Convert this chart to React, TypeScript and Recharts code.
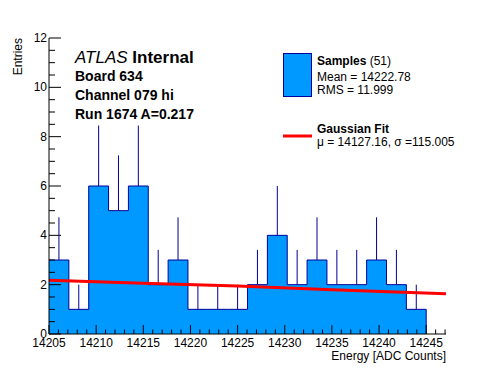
import { Area, ComposedChart, ErrorBar, Line, Scatter, XAxis, YAxis } from "recharts";

const X_MIN = 14205;
const X_MAX = 14247.1;
const BIN_LO = 14205;
const BIN_HI = 14245;

// entries per bin (19 bins between 14205 and 14245)
const counts = [3, 1, 6, 5, 6, 2, 3, 1, 1, 1, 2, 4, 2, 3, 2, 2, 3, 2, 1];
// upper error bar length per bin
const errUp = [1.73, 1.0, 2.45, 2.24, 2.45, 1.41, 1.73, 1.0, 1.0, 1.0, 1.41, 2.0, 1.41, 1.73, 1.41, 1.41, 1.73, 1.41, 1.0];

// gaussian fit curve as drawn
const fitX = [14205, 14215, 14225, 14235, 14247.1];
const fitY = [2.18, 2.06, 1.95, 1.79, 1.63];

const xMajor = [14205, 14210, 14215, 14220, 14225, 14230, 14235, 14240, 14245];
const yMajor = [0, 2, 4, 6, 8, 10, 12];

const xTicks = Array.from({ length: 43 }, (_, i) => X_MIN + i);
const yTicks = Array.from({ length: 25 }, (_, i) => i * 0.5);

const binW = (BIN_HI - BIN_LO) / counts.length;
const histData = [
  ...counts.map((c, i) => ({ x: BIN_LO + i * binW, y: c })),
  { x: BIN_HI, y: counts[counts.length - 1] },
  { x: BIN_HI, y: 0 },
];
const errData = counts.map((c, i) => ({ x: BIN_LO + (i + 0.5) * binW, y: c, err: [0, errUp[i]] }));
const fitData = fitX.map((x, i) => ({ x, f: fitY[i] }));

const NAVY = "#000099";
const FILL = "#0099ff";
const FONT = '"Liberation Sans", Arial, Helvetica, sans-serif';

// plot frame edges (set by margins + axis sizes below)
const PLOT_LEFT = 49;
const PLOT_BOTTOM = 334;

function XTick({ x, payload }: any) {
  const v = payload.value;
  const major = xMajor.includes(v);
  const y = PLOT_BOTTOM;
  return (
    <g>
      <line x1={x} x2={x} y1={y} y2={y - (major ? 9 : 4.5)} stroke="#000" />
      {major && (
        <text x={x} y={347} textAnchor="middle" fontSize={12} fill="#000">
          {v}
        </text>
      )}
    </g>
  );
}

function YTick({ y, payload }: any) {
  const v = payload.value;
  const major = yMajor.includes(v);
  const x = PLOT_LEFT;
  return (
    <g>
      <line x1={x} x2={x + (major ? 12 : 6)} y1={y} y2={y} stroke="#000" />
      {major && (
        <text x={x - 2} y={y + 4} textAnchor="end" fontSize={12} fill="#000">
          {v}
        </text>
      )}
    </g>
  );
}

export default function App() {
  return (
    <div style={{ position: "relative", width: 496, height: 372, fontFamily: FONT, background: "#fff" }}>
      <style>{`body{margin:0}`}</style>
      <ComposedChart width={496} height={372} margin={{ top: 38, right: 50, left: 0, bottom: 0 }}>
        <XAxis
          dataKey="x"
          type="number"
          domain={[X_MIN, X_MAX]}
          allowDataOverflow
          ticks={xTicks}
          interval={0}
          tickLine={false}
          tick={<XTick />}
          height={38}
          axisLine={{ stroke: "#000" }}
        />
        <XAxis xAxisId="top" orientation="top" type="number" domain={[X_MIN, X_MAX]} height={0} tick={false} tickLine={false} axisLine={{ stroke: "#000" }} />
        <YAxis
          type="number"
          domain={[0, 12]}
          allowDataOverflow
          ticks={yTicks}
          interval={0}
          tickLine={false}
          tick={<YTick />}
          width={49}
          axisLine={{ stroke: "#000" }}
        />
        <YAxis yAxisId="right" orientation="right" type="number" domain={[0, 12]} width={0} tick={false} tickLine={false} axisLine={{ stroke: "#000" }} />
        <Area
          data={histData}
          dataKey="y"
          type="stepAfter"
          fill={FILL}
          fillOpacity={1}
          stroke={NAVY}
          strokeWidth={1}
          isAnimationActive={false}
        />
        <Scatter data={errData} dataKey="y" shape={() => <g />} isAnimationActive={false}>
          <ErrorBar dataKey="err" direction="y" width={0} stroke={NAVY} strokeWidth={1} />
        </Scatter>
        <Line data={fitData} dataKey="f" type="linear" stroke="#ff0000" strokeWidth={3} dot={false} isAnimationActive={false} />
      </ComposedChart>

      <svg width={496} height={372} style={{ position: "absolute", left: 0, top: 0, pointerEvents: "none" }}>
        <text x={75} y={63} fontSize={17} fill="#000">
          <tspan fontStyle="italic">ATLAS</tspan>
          <tspan fontWeight="bold"> Internal</tspan>
        </text>
        <text x={75} y={81} fontSize={14} fontWeight="bold">Board 634</text>
        <text x={75} y={100} fontSize={14} fontWeight="bold">Channel 079 hi</text>
        <text x={75} y={119} fontSize={14} fontWeight="bold">Run 1674 A=0.217</text>

        <rect x={283.5} y={53.5} width={28} height={43} fill={FILL} stroke={NAVY} />
        <text x={317} y={65} fontSize={12}>
          <tspan fontWeight="bold">Samples</tspan>
          <tspan> (51)</tspan>
        </text>
        <text x={317} y={81} fontSize={12}>Mean = 14222.78</text>
        <text x={317} y={94} fontSize={12}>RMS = 11.999</text>

        <line x1={283} x2={312} y1={136} y2={136} stroke="#ff0000" strokeWidth={3} />
        <text x={317} y={133} fontSize={12} fontWeight="bold">Gaussian Fit</text>
        <text x={317} y={146} fontSize={12}>μ = 14127.16, σ =115.005</text>

        <text x={22} y={38} fontSize={12} textAnchor="end" transform="rotate(-90 22 38)">Entries</text>
        <text x={446} y={360} fontSize={12} textAnchor="end">Energy [ADC Counts]</text>
      </svg>
    </div>
  );
}
